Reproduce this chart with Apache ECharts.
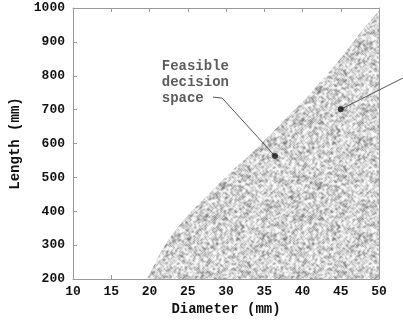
<!DOCTYPE html>
<html>
<head>
<meta charset="utf-8">
<script src="https://cdn.jsdelivr.net/npm/echarts@6/dist/echarts.min.js"></script>
<style>
  html, body { margin: 0; padding: 0; background: #fff; }
  #chart { width: 403px; height: 322px; }
</style>
</head>
<body>
<div id="chart"></div>
<script>
// boundary of the feasible region (diameter mm -> length mm)
const diameter = [19.6, 20.1, 21.4, 23.1, 25.3, 27.9, 30.9, 34.4, 38, 40.6, 44, 47.1, 49.5, 50];
const length = [200, 218, 277, 336, 395, 454, 522, 594, 678, 737, 825, 914, 979, 992];

const xTicks = [10, 15, 20, 25, 30, 35, 40, 45, 50];
const yTicks = [200, 300, 400, 500, 600, 700, 800, 900, 1000];

// annotations, in data units
const labelText = ['Feasible', 'decision', 'space'];
const labelAt = [21.6, 781];
const leader = [[28.3, 737], [29.5, 734], [36.4, 563]];
const arrow = [[53.1, 793], [45.0, 701]];

// stipple texture: integer hash noise, softened with a small blur
function hash(x, y) {
  let h = (x * 374761393 + y * 668265263) | 0;
  h = Math.imul(h ^ (h >>> 13), 1274126177);
  h = h ^ (h >>> 16);
  return (h >>> 0) / 4294967296;
}
function stipple() {
  const n = 96;
  const raw = new Float32Array(n * n);
  for (let y = 0; y < n; y++) {
    for (let x = 0; x < n; x++) {
      raw[y * n + x] = hash(x, y) < 0.3 ? 110 : 252;
    }
  }
  const c = document.createElement('canvas');
  c.width = n; c.height = n;
  const g = c.getContext('2d');
  const img = g.createImageData(n, n);
  for (let y = 0; y < n; y++) {
    for (let x = 0; x < n; x++) {
      let s = 0, w = 0;
      for (let dy = -1; dy <= 1; dy++) {
        for (let dx = -1; dx <= 1; dx++) {
          const k = (dx === 0 && dy === 0) ? 3 : 1;
          s += raw[((y + dy + n) % n) * n + ((x + dx + n) % n)] * k;
          w += k;
        }
      }
      const v = s / w;
      const i = (y * n + x) * 4;
      img.data[i] = v; img.data[i + 1] = v; img.data[i + 2] = v; img.data[i + 3] = 255;
    }
  }
  g.putImageData(img, 0, 0);
  return c;
}

const mono = "'Liberation Mono', 'DejaVu Sans Mono', monospace";
const boxColor = '#9a9a9a';

let myChart = echarts.init(document.getElementById('chart'));
myChart.setOption({
  animation: false,
  grid: { left: 73, right: 24, top: 8, bottom: 43 },
  xAxis: [
    {
      type: 'value', min: xTicks[0], max: xTicks[xTicks.length - 1], interval: 5,
      name: 'Diameter (mm)', nameLocation: 'middle', nameGap: 22,
      nameTextStyle: { fontFamily: mono, fontWeight: 'bold', fontSize: 14, color: '#111' },
      axisLine: { lineStyle: { color: boxColor, width: 1 } },
      axisTick: { inside: true, length: 4, lineStyle: { color: boxColor } },
      axisLabel: { fontFamily: mono, fontWeight: 'bold', fontSize: 13, color: '#111', margin: 6 },
      splitLine: { show: false }
    },
    {
      type: 'value', min: xTicks[0], max: xTicks[xTicks.length - 1], interval: 5, position: 'top',
      axisLine: { show: true, lineStyle: { color: boxColor, width: 1 } },
      axisTick: { inside: true, length: 4, lineStyle: { color: boxColor } },
      axisLabel: { show: false },
      splitLine: { show: false }
    }
  ],
  yAxis: [
    {
      type: 'value', min: yTicks[0], max: yTicks[yTicks.length - 1], interval: 100,
      name: 'Length (mm)', nameLocation: 'middle', nameGap: 46,
      nameTextStyle: { fontFamily: mono, fontWeight: 'bold', fontSize: 14, color: '#111' },
      axisLine: { show: true, lineStyle: { color: boxColor, width: 1 } },
      axisTick: { show: true, inside: true, length: 4, lineStyle: { color: boxColor } },
      axisLabel: {
        fontFamily: mono, fontWeight: 'bold', fontSize: 13, color: '#111', margin: 8,
        formatter: v => String(v)
      },
      splitLine: { show: false }
    },
    {
      type: 'value', min: yTicks[0], max: yTicks[yTicks.length - 1], interval: 100, position: 'right',
      axisLine: { show: true, lineStyle: { color: boxColor, width: 1 } },
      axisTick: { show: false },
      axisLabel: { show: false },
      splitLine: { show: false }
    }
  ],
  series: [
    {
      type: 'line',
      data: diameter.map((d, i) => [d, length[i]]),
      symbol: 'none',
      smooth: 0.15,
      lineStyle: { width: 0 },
      areaStyle: { color: { image: stipple(), repeat: 'repeat' }, opacity: 1 }
    },
    {
      type: 'scatter',
      data: [labelAt],
      symbolSize: 0,
      label: {
        show: true, position: 'right', distance: 0,
        formatter: labelText.join('\n'),
        fontFamily: mono, fontWeight: 'bold', fontSize: 14, lineHeight: 16,
        color: '#333', align: 'left', verticalAlign: 'middle'
      },
      z: 5
    },
    {
      type: 'lines',
      coordinateSystem: 'cartesian2d',
      polyline: true,
      clip: false,
      data: [{ coords: leader }, { coords: arrow }],
      lineStyle: { color: '#555', width: 1, opacity: 1 },
      z: 5
    },
    {
      type: 'scatter',
      data: [leader[leader.length - 1], arrow[arrow.length - 1]],
      symbol: 'circle',
      symbolSize: 6,
      itemStyle: { color: '#111' },
      z: 6
    }
  ]
});

window.addEventListener('resize', function() {
  myChart.resize()
})
</script>
</body>
</html>
